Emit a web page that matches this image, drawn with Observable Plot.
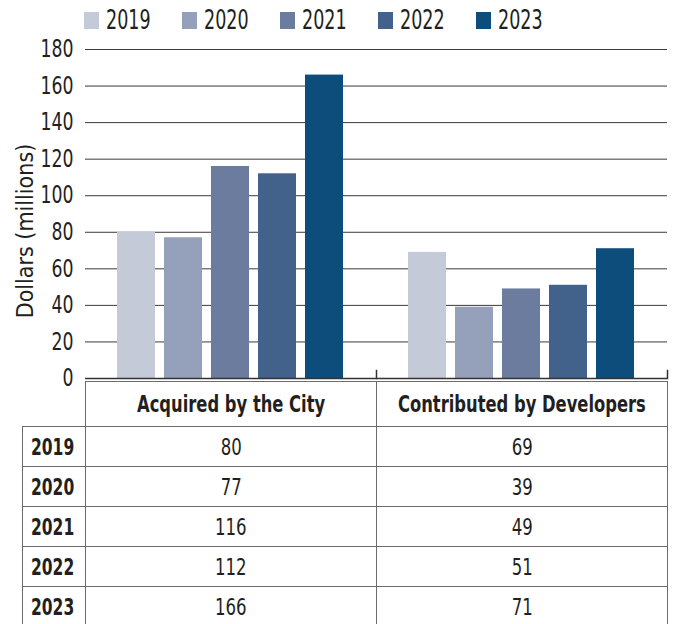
<!DOCTYPE html>
<html>
<head>
<meta charset="utf-8">
<script src="https://cdn.jsdelivr.net/npm/d3@7"></script>
<script src="https://cdn.jsdelivr.net/npm/@observablehq/plot@0.6"></script>
<style>
  body { margin: 0; background: #fff; }
  #wrap { position: relative; width: 678px; height: 624px; overflow: hidden;
    font-family: "DejaVu Sans Condensed", "DejaVu Sans", sans-serif;
    font-stretch: condensed; color: #231f20; }
  #legend { position: absolute; left: 84px; top: 0; height: 40px; display: flex; align-items: center; font-size: 26px; }
  .item { display: flex; align-items: center; width: 98px; white-space: nowrap; }
  .sw { width: 15px; height: 17px; margin-right: 7px; flex: none; }
  .sx { display: inline-block; white-space: nowrap; flex: none; }
  #legend .sx { transform: scaleX(0.75); transform-origin: left center; }
  #chart { position: absolute; left: 0; top: 36px; }
  #ylabel { position: absolute; left: 25px; top: 231px; transform: translate(-50%, -50%) rotate(-90deg);
    font-size: 23px; white-space: nowrap; }
  table { position: absolute; top: 381px; left: 22px; width: 645px; border-collapse: collapse; table-layout: fixed; }
  td, th { border: 1.5px solid #6b6b6b; padding: 0; overflow: visible; white-space: nowrap; }
  th { height: 44px; font-weight: bold; font-size: 23px; }
  .ctr { display: flex; justify-content: center; align-items: center; width: 100%; }
  th .sx { transform: scaleX(0.79); transform-origin: center; }
  th.blank { border-top: none; border-left: none; }
  td { height: 39px; font-size: 23px; }
  td .sx { transform: scaleX(0.8); transform-origin: center; }
  td.yr { font-weight: bold; text-align: left; }
  td.yr .sx { transform: scaleX(0.75); transform-origin: left center; margin-left: 8px; }
</style>
</head>
<body>
<div id="wrap">
  <div id="legend"></div>
  <div id="chart"></div>
  <div id="ylabel"></div>
  <table id="tbl"></table>
</div>
<script>
const years = ["2019", "2020", "2021", "2022", "2023"];
const groups = ["Acquired by the City", "Contributed by Developers"];
const acquired = [80, 77, 116, 112, 166];
const contributed = [69, 39, 49, 51, 71];
const colors = ["#c5cad9", "#95a0bb", "#6c7c9f", "#42628c", "#0c4d7c"];
const yTicks = [0, 20, 40, 60, 80, 100, 120, 140, 160, 180];
const yLabel = "Dollars (millions)";

const data = [];
years.forEach((yr, i) => {
  data.push({group: groups[0], year: yr, value: acquired[i]});
  data.push({group: groups[1], year: yr, value: contributed[i]});
});

function scaled(text) {
  const s = document.createElement("span");
  s.className = "sx";
  s.textContent = text;
  return s;
}
function centered(text) {
  const d = document.createElement("div");
  d.className = "ctr";
  d.appendChild(scaled(text));
  return d;
}

// Legend
const legend = document.getElementById("legend");
years.forEach((yr, i) => {
  const it = document.createElement("div");
  it.className = "item";
  const sw = document.createElement("span");
  sw.className = "sw";
  sw.style.background = colors[i];
  it.appendChild(sw);
  it.appendChild(scaled(yr));
  legend.appendChild(it);
});

document.getElementById("ylabel").textContent = yLabel;

const chart = Plot.plot({
  width: 678,
  height: 370,
  marginTop: 13,
  marginBottom: 28,
  marginLeft: 85,
  marginRight: 11,
  style: {fontFamily: "'DejaVu Sans Condensed', 'DejaVu Sans', sans-serif", color: "#231f20", background: "transparent", overflow: "visible"},
  fx: {domain: groups, padding: 0, axis: null},
  x: {domain: years, paddingInner: 0.19, paddingOuter: 0.69, axis: null},
  y: {domain: [0, 180]},
  color: {domain: years, range: colors},
  marks: [
    Plot.gridY(yTicks.filter(v => v > 0), {stroke: "#3a3a3a", strokeOpacity: 1, strokeWidth: 1}),
    Plot.barY(data, {fx: "group", x: "year", y: "value", fill: "year"}),
    Plot.ruleY([0], {stroke: "#333", strokeWidth: 1.5}),
    Plot.frame({anchor: "right", insetTop: 321, stroke: "#333", strokeWidth: 1.5}),
    Plot.axisY(yTicks, {tickSize: 0, tickPadding: 12, fontSize: 24, label: null, line: true, stroke: "#8a8a8a", fill: "#231f20"})
  ]
});
// condense tick labels horizontally (the reference uses a condensed face)
chart.querySelectorAll('g[aria-label="y-axis tick label"] text').forEach(t => {
  const tr = t.getAttribute("transform") || "";
  t.setAttribute("transform", tr + " scale(0.8,1)");
});
document.getElementById("chart").appendChild(chart);

// Table
const tbl = document.getElementById("tbl");
const cg = document.createElement("colgroup");
[63, 291, 291].forEach(w => { const c = document.createElement("col"); c.style.width = w + "px"; cg.appendChild(c); });
tbl.appendChild(cg);
const hr = document.createElement("tr");
const blank = document.createElement("th"); blank.className = "blank"; hr.appendChild(blank);
groups.forEach(g => { const th = document.createElement("th"); th.appendChild(centered(g)); hr.appendChild(th); });
tbl.appendChild(hr);
years.forEach((yr, i) => {
  const tr = document.createElement("tr");
  const a = document.createElement("td"); a.className = "yr"; a.appendChild(scaled(yr)); tr.appendChild(a);
  const b = document.createElement("td"); b.appendChild(centered(String(acquired[i]))); tr.appendChild(b);
  const c = document.createElement("td"); c.appendChild(centered(String(contributed[i]))); tr.appendChild(c);
  tbl.appendChild(tr);
});
</script>
</body>
</html>
